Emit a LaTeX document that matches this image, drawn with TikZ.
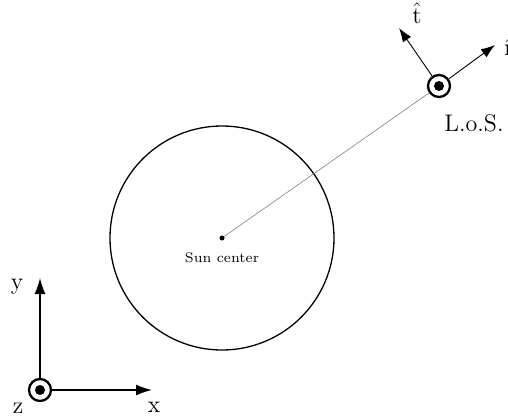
\documentclass[tikz,border=0pt]{standalone}
\usetikzlibrary{arrows.meta}
\begin{document}
\begin{tikzpicture}[x=0.5pt,y=-0.5pt,
  axis/.style={line width=0.7pt,-{Latex[length=8pt,width=5.5pt]}},
  dir/.style={line width=0.45pt,-{Latex[length=7pt,width=5pt]}},
  lbl/.style={font=\large,inner sep=0pt},
  outring/.style={circle,draw,line width=1.15pt,minimum size=22*0.5pt,inner sep=0pt},
  indot/.style={circle,fill,minimum size=10*0.5pt,inner sep=0pt}]
\useasboundingbox (0,0) rectangle (508,418);
% sun
\coordinate (sc) at (222,238);
\draw[line width=0.65pt] (sc) circle[radius=112];
% line of sight
\node[outring] (los) at (439,86) {};
\node[indot] at (los) {};
\draw[gray,line width=0.3pt] (sc) -- (los);
\fill (sc) circle[radius=2.5];
\node[font=\scriptsize,inner sep=0pt] (scl) at (222,258) {Sun center};
\node[lbl] (losl) at (474,123) {L.o.S.};
\coordinate (rt) at (495,45);
\coordinate (tt) at (399,28);
\draw[dir] (los) -- (rt);
\draw[dir] (los) -- (tt);
\node[lbl] (tl) at (417,13) {$\hat{\mathrm{t}}$};
\node[lbl,anchor=west] (rl) at (504,47) {$\hat{\mathrm{r}}$};
% axes
\node[outring] (o) at (40,390) {};
\node[indot] at (o) {};
\coordinate (xt) at (152,390);
\coordinate (yt) at (40,278);
\draw[axis] (o) -- (xt);
\draw[axis] (o) -- (yt);
\node[lbl] (xl) at (154,407) {x};
\node[lbl] (yl) at (17,287) {y};
\node[lbl] (zl) at (18,408) {z};
\end{tikzpicture}
\end{document}
